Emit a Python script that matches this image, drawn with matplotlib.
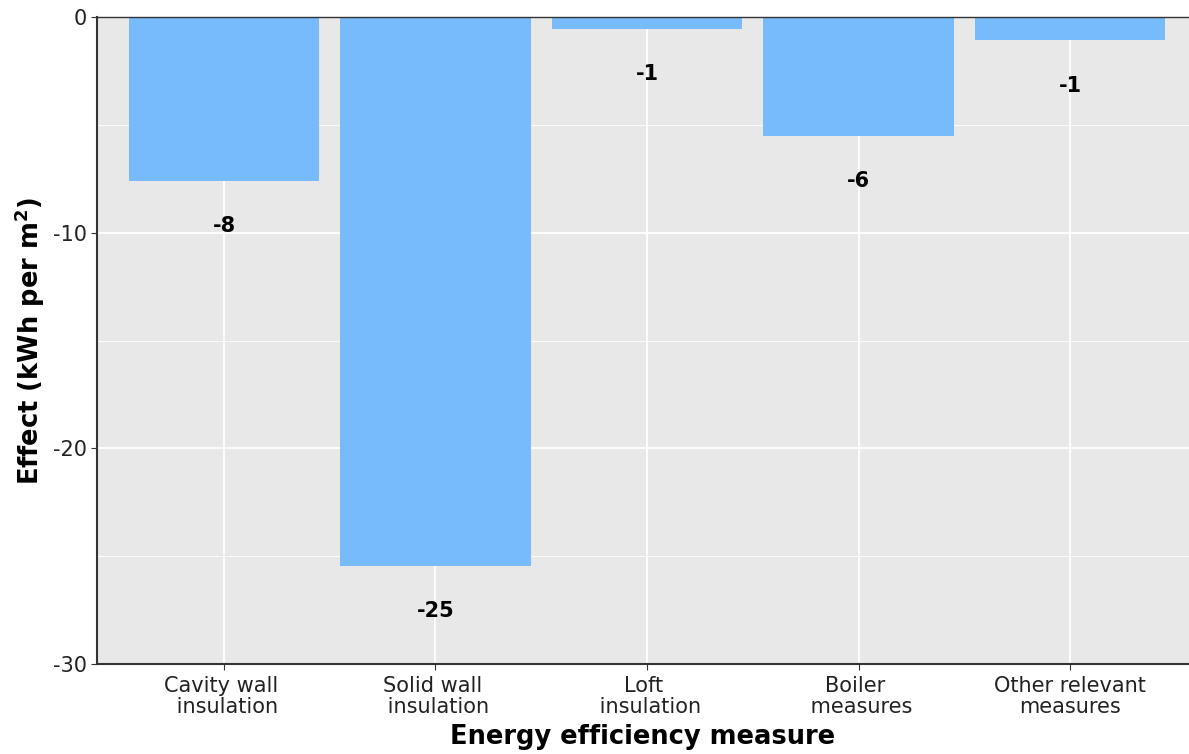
import numpy as np
import matplotlib.pyplot as plt
from matplotlib.ticker import MultipleLocator

plt.rcParams['axes.unicode_minus'] = False

measures = ['Cavity wall \n insulation', 'Solid wall \n insulation', 'Loft \n insulation',
            'Boiler \n measures', 'Other relevant\nmeasures']
effect = [-7.6, -25.45, -0.56, -5.52, -1.08]
labels = ['-8', '-25', '-1', '-6', '-1']

fig = plt.figure(figsize=(11.89, 7.54), dpi=100)
ax = fig.add_axes([0.0816, 0.1194, 0.918, 0.858])
ax.set_facecolor('#e8e8e8')

x = np.arange(len(measures))
ax.bar(x, effect, width=0.9, color='#77bbfc', zorder=2)
for xi, v, t in zip(x, effect, labels):
    ax.text(xi, v - 2.1, t, ha='center', va='center', fontsize=15, fontweight='bold', zorder=3)

ax.set_xlim(-0.6, 4.56)
ax.set_ylim(-30, 0)
ax.yaxis.set_major_locator(MultipleLocator(10))
ax.yaxis.set_minor_locator(MultipleLocator(5))
ax.grid(which='major', color='white', lw=1.3, zorder=1)
ax.grid(which='minor', axis='y', color='white', lw=0.6, zorder=1)
ax.tick_params(which='minor', length=0)
ax.tick_params(which='major', labelsize=15, length=4, color='#333333', labelcolor='#222222')
ax.tick_params(axis='x', pad=5)

ax.set_xticks(x)
ax.set_xticklabels(measures, linespacing=1.05)
for s in ['left', 'bottom']:
    ax.spines[s].set_color('#333333')
    ax.spines[s].set_linewidth(1.5)
ax.spines['top'].set_color('#333333')
ax.spines['top'].set_linewidth(1.0)
ax.spines['right'].set_visible(False)

ax.set_xlabel('Energy efficiency measure', fontsize=18.5, fontweight='bold', labelpad=5)
ax.set_ylabel('Effect (kWh per m$^\\mathbf{2}$)', fontsize=18.5, fontweight='bold', labelpad=4)

fig.savefig('out.png', dpi=100)
